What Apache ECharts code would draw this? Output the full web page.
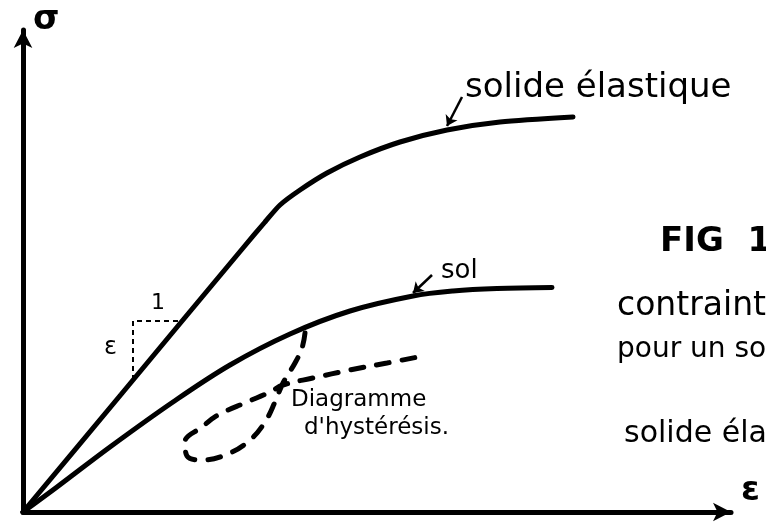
<!DOCTYPE html>
<html>
<head>
<meta charset="utf-8">
<script src="https://cdn.jsdelivr.net/npm/echarts@6/dist/echarts.min.js"></script>
<style>
  html, body { margin: 0; padding: 0; background: #ffffff; }
  #chart { width: 766px; height: 524px; }
</style>
</head>
<body>
<div id="chart"></div>
<script>
// Strain (ε) / stress (σ) in arbitrary units
const elasticStrain = [0, 19.6, 31.4, 44, 48.4, 51.4, 55.4, 60.8, 67.4, 75.4, 84.8, 95.4, 110];
const elasticStress = [0, 23.5, 37.7, 52.8, 58, 61.4, 64.4, 67.8, 71, 74, 76.4, 78, 79];

const soilStrain = [0, 6.8, 17.4, 30, 41.4, 53.4, 65.4, 78, 86, 94.8, 105.8];
const soilStress = [0, 5, 13, 22, 29.4, 35.6, 40.2, 43.2, 44.2, 44.7, 44.9];

// Hysteresis loop: unloading branch, then reloading branch
const loopStrain = [56.4, 55.8, 54.4, 52, 50.4, 48.4, 45.4, 41.4, 36, 32.8, 32.4, 35.8, 39, 44.8, 49.4, 52, 58, 65.4, 72.8, 79];
const loopStress = [35.8, 32.8, 29.8, 25.8, 22, 18, 14.4, 11.8, 10.4, 11.2, 14, 17, 19.4, 22, 24, 25.4, 26.8, 28.4, 29.8, 31];

// Slope triangle on the elastic line (run 1, rise ε)
const slopeStrain = [22, 22, 32];
const slopeStress = [26.4, 38.2, 38.2];

// Pointer arrows from the curve names to the curves
const elasticPointer = [[87.8, 83], [84.8, 77.2]];
const soilPointer = [[81.8, 47.4], [78, 43.8]];

const pairs = (xs, ys) => xs.map((x, i) => [x, ys[i]]);

const FONT = 'DejaVu Sans';
const chart = echarts.init(document.getElementById('chart'));

const txt = (text, left, top, size, weight) => ({
  type: 'text', left, top,
  style: { text, fill: '#000', fontSize: size, fontFamily: FONT, fontWeight: weight || 'normal' }
});

chart.setOption({
  backgroundColor: '#ffffff',
  animation: false,
  grid: { left: 23, top: 30, right: 35, bottom: 12 },
  xAxis: {
    type: 'value', min: 0, max: 141.6,
    axisLine: { show: true, onZero: false, symbol: ['none', 'arrow'], symbolSize: [14, 18],
                lineStyle: { color: '#000', width: 5 } },
    axisTick: { show: false }, axisLabel: { show: false }, splitLine: { show: false }
  },
  yAxis: {
    type: 'value', min: 0, max: 96.4,
    axisLine: { show: true, onZero: false, symbol: ['none', 'arrow'], symbolSize: [14, 18],
                lineStyle: { color: '#000', width: 5 } },
    axisTick: { show: false }, axisLabel: { show: false }, splitLine: { show: false }
  },
  series: [
    {
      name: 'solide élastique', type: 'line', smooth: 0.25, showSymbol: false,
      data: pairs(elasticStrain, elasticStress),
      lineStyle: { color: '#000', width: 5, cap: 'round' }
    },
    {
      name: 'sol', type: 'line', smooth: 0.35, showSymbol: false,
      data: pairs(soilStrain, soilStress),
      lineStyle: { color: '#000', width: 5, cap: 'round' }
    },
    {
      name: "Diagramme d'hystérésis", type: 'line', smooth: 0.4, showSymbol: false,
      data: pairs(loopStrain, loopStress),
      lineStyle: { color: '#000', width: 5, type: [13, 13], cap: 'round' }
    },
    {
      name: 'pente', type: 'line', showSymbol: false,
      data: pairs(slopeStrain, slopeStress),
      lineStyle: { color: '#000', width: 2, type: [5, 4] }
    },
    {
      type: 'lines', coordinateSystem: 'cartesian2d',
      symbol: ['none', 'arrow'], symbolSize: 10,
      lineStyle: { color: '#000', width: 2.5, opacity: 1 },
      data: [{ coords: elasticPointer }, { coords: soilPointer }]
    }
  ],
  graphic: [
    txt('σ', 33, 3, 34, 'bold'),
    txt('solide élastique', 465, 71, 34),
    txt('sol', 441, 258, 26),
    txt('FIG  1', 660, 225, 34, 'bold'),
    txt('contraintes', 617, 290, 33),
    txt('pour un sol et un', 617, 336, 28),
    txt('solide élastique', 624, 419, 30),
    txt('ε', 741, 474, 34, 'bold'),
    txt('ε', 104, 336, 24),
    txt('1', 151, 292, 22),
    txt('Diagramme', 291, 389, 23),
    txt("d'hystérésis.", 304, 417, 23)
  ]
});
</script>
</body>
</html>
